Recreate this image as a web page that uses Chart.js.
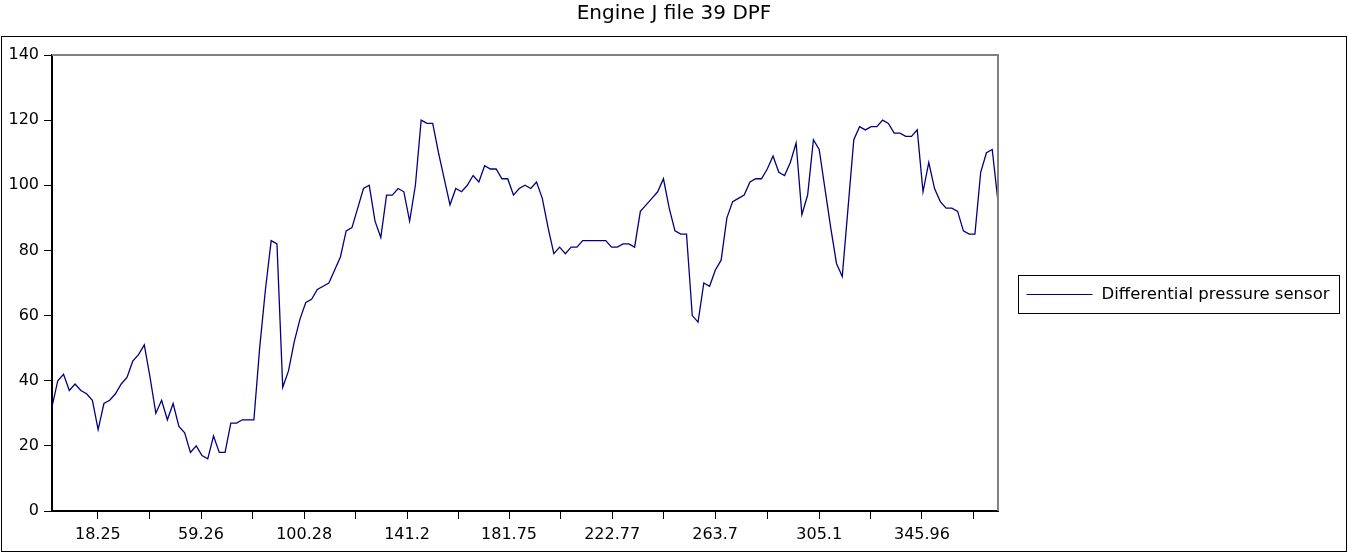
<!DOCTYPE html>
<html>
<head>
<meta charset="utf-8">
<script src="https://cdn.jsdelivr.net/npm/chart.js@4/dist/chart.umd.min.js"></script>
<style>
  html, body { margin: 0; padding: 0; background: #fff; }
  #wrap { width: 1348px; height: 553px; }
</style>
</head>
<body>
<div id="wrap"><canvas id="chart1" width="1348" height="553"></canvas></div>
<script>
// dati
const titolo = "Engine J file 39 DPF";
const serieNome = "Differential pressure sensor";
const pressione = [
    32, 40, 42, 37, 39, 37, 36, 34, 25, 33, 34, 36, 39, 41, 46, 48, 51, 41, 30, 34,
    28, 33, 26, 24, 18, 20, 17, 16, 23, 18, 18, 27, 27, 28, 28, 28, 50, 68, 83, 82,
    38, 43, 52, 59, 64, 65, 68, 69, 70, 74, 78, 86, 87, 93, 99, 100, 89, 84, 97, 97,
    99, 98, 89, 100, 120, 119, 119, 110, 102, 94, 99, 98, 100, 103, 101, 106, 105, 105, 102, 102,
    97, 99, 100, 99, 101, 96, 87, 79, 81, 79, 81, 81, 83, 83, 83, 83, 83, 81, 81, 82,
    82, 81, 92, 94, 96, 98, 102, 93, 86, 85, 85, 60, 58, 70, 69, 74, 77, 90, 95, 96,
    97, 101, 102, 102, 105, 109, 104, 103, 107, 113, 91, 97, 114, 111, 99, 87, 76, 72, 93, 114,
    118, 117, 118, 118, 120, 119, 116, 116, 115, 115, 117, 98, 107, 99, 95, 93, 93, 92, 86, 85,
    85, 104, 110, 111, 95
];
const campioni = pressione.map((_, i) => i);
// etichette dell'asse x (tempo) e suoi estremi
const tickTempo = [18.25, 59.26, 100.28, 141.2, 181.75, 222.77, 263.7, 305.1, 345.96];
const tempoMin = 0;
const tempoMax = 376.2;
const tickY = [0, 20, 40, 60, 80, 100, 120, 140];

// tacche intermedie senza etichetta
const tickTutti = [];
tickTempo.forEach((v, i) => {
    tickTutti.push(v);
    const next = i < tickTempo.length - 1 ? tickTempo[i + 1] : v + (v - tickTempo[i - 1]);
    tickTutti.push((v + next) / 2);
});

const FONT = "'DejaVu Sans', 'Liberation Sans', sans-serif";

// cornice esterna, bordo grigio sopra/destra e legenda a riquadro
const cornice = {
    id: "cornice",
    afterDraw(chart) {
        const ctx = chart.ctx;
        const a = chart.chartArea;
        ctx.save();
        ctx.strokeStyle = "#000";
        ctx.lineWidth = 1;
        ctx.strokeRect(1.5, 36.5, 1345, 515);

        ctx.strokeStyle = "#808080";
        ctx.lineWidth = 2;
        ctx.beginPath();
        ctx.moveTo(a.left, a.top);
        ctx.lineTo(a.right, a.top);
        ctx.lineTo(a.right, a.bottom);
        ctx.stroke();

        // legenda
        const ds = chart.data.datasets[0];
        ctx.font = "16.5px " + FONT;
        const tw = ctx.measureText(ds.label).width;
        const x0 = a.right + 20.5;
        const cy = (36 + 551) / 2;
        const w = 8 + 66 + 9 + tw + 10;
        ctx.strokeStyle = "#000";
        ctx.lineWidth = 1;
        ctx.strokeRect(x0, Math.round(cy - 19) + 0.5, Math.round(w), 38);
        ctx.strokeStyle = ds.borderColor;
        ctx.beginPath();
        ctx.moveTo(x0 + 8, Math.round(cy) + 0.5);
        ctx.lineTo(x0 + 74, Math.round(cy) + 0.5);
        ctx.stroke();
        ctx.fillStyle = "#000";
        ctx.textBaseline = "middle";
        ctx.textAlign = "left";
        ctx.fillText(ds.label, x0 + 83, cy + 1);
        ctx.restore();
    }
};

const chart1 = new Chart("chart1", {
    type: "line",
    data: {
        labels: campioni,
        datasets: [{
            label: serieNome,
            data: pressione,
            borderColor: "#000080",
            backgroundColor: "#000080",
            borderWidth: 1.3,
            pointRadius: 0,
            tension: 0,
            fill: false
        }]
    },
    options: {
        responsive: false,
        animation: false,
        layout: {padding: 0},
        plugins: {
            legend: {display: false},
            tooltip: {enabled: false},
            title: {
                display: true,
                text: titolo,
                color: "#000",
                font: {family: FONT, size: 20, weight: "normal"},
                padding: {top: 2, bottom: 29}
            }
        },
        scales: {
            x: {type: "category", display: false},
            tempo: {
                type: "linear",
                axis: "x",
                position: "bottom",
                min: tempoMin,
                max: tempoMax,
                afterBuildTicks: (s) => { s.ticks = tickTutti.map(v => ({value: v})); },
                afterFit: (s) => { s.height = 42; },
                grid: {drawOnChartArea: false, drawTicks: true, tickLength: 8, color: "#000", lineWidth: 1},
                border: {color: "#000", width: 2},
                ticks: {
                    autoSkip: false,
                    maxRotation: 0,
                    padding: 6,
                    color: "#000",
                    font: {family: FONT, size: 16},
                    callback: (v) => {
                        const i = tickTempo.indexOf(v);
                        return i >= 0 ? String(tickTempo[i]) : "";
                    }
                }
            },
            y: {
                min: 0,
                max: 140,
                afterBuildTicks: (s) => { s.ticks = tickY.map(v => ({value: v})); },
                afterFit: (s) => { s.width = 52; },
                grid: {drawOnChartArea: false, drawTicks: true, tickLength: 8, color: "#000", lineWidth: 1},
                border: {color: "#000", width: 2},
                ticks: {
                    padding: 5,
                    color: "#000",
                    font: {family: FONT, size: 16}
                }
            },
            // spazio a destra per la legenda
            riserva: {
                type: "linear",
                axis: "y",
                position: "right",
                grid: {display: false},
                border: {display: false},
                ticks: {display: false},
                afterFit: (s) => { s.width = 350; }
            }
        }
    },
    plugins: [cornice]
});
</script>
</body>
</html>
